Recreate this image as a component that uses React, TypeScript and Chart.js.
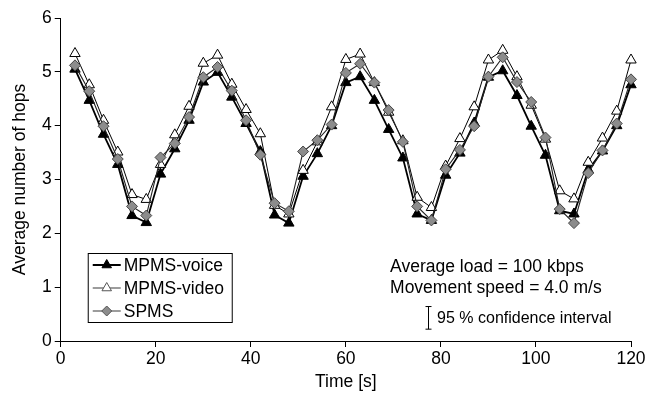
import React, { useEffect, useRef } from "react";
import { Chart, registerables } from "chart.js";

Chart.register(...registerables);

const times = [3, 6, 9, 12, 15, 18, 21, 24, 27, 30, 33, 36, 39, 42, 45, 48, 51, 54, 57, 60, 63, 66, 69, 72, 75, 78, 81, 84, 87, 90, 93, 96, 99, 102, 105, 108, 111, 114, 117, 120];

const mpmsVoice = [5.05, 4.47, 3.84, 3.28, 2.33, 2.2, 3.1, 3.57, 4.1, 4.81, 4.99, 4.53, 4.04, 3.52, 2.34, 2.19, 3.06, 3.48, 4.0, 4.8, 4.91, 4.47, 3.93, 3.4, 2.36, 2.24, 3.08, 3.49, 4.05, 4.9, 5.02, 4.56, 3.99, 3.45, 2.42, 2.36, 3.18, 3.53, 4.0, 4.76];

const mpmsVideo = [5.34, 4.76, 4.1, 3.51, 2.72, 2.63, 3.28, 3.83, 4.36, 5.16, 5.31, 4.77, 4.3, 3.85, 2.52, 2.36, 3.17, 3.7, 4.35, 5.23, 5.33, 4.8, 4.25, 3.72, 2.67, 2.48, 3.25, 3.76, 4.35, 5.22, 5.4, 4.91, 4.38, 3.75, 2.79, 2.64, 3.32, 3.77, 4.27, 5.22];

const spms = [5.12, 4.64, 3.99, 3.38, 2.5, 2.33, 3.41, 3.67, 4.16, 4.9, 5.09, 4.65, 4.1, 3.46, 2.56, 2.41, 3.52, 3.73, 4.02, 4.98, 5.15, 4.8, 4.29, 3.7, 2.5, 2.24, 3.19, 3.55, 3.99, 4.91, 5.27, 4.81, 4.44, 3.78, 2.45, 2.19, 3.12, 3.54, 4.04, 4.86];

const seriesLabels = ["MPMS-voice", "MPMS-video", "SPMS"];
const annotationLines = ["Average load = 100 kbps", "Movement speed = 4.0 m/s"];
const ciLabel = "95 % confidence interval";

const FONT = "'Liberation Sans', Arial, sans-serif";

const toPoints = (ys: number[]) => times.map((t, i) => ({ x: t, y: ys[i] }));

const overlayPlugin = {
  id: "overlay",
  afterDraw(chart: any) {
    const { ctx, chartArea, scales } = chart;
    const xs = scales.x;
    const ys = scales.y;
    ctx.save();

    // Legend box
    const bx = chartArea.left + 27;
    const by = chartArea.top + 235;
    const bw = 144;
    const bh = 69;
    ctx.fillStyle = "#fff";
    ctx.fillRect(bx, by, bw, bh);
    ctx.strokeStyle = "#000";
    ctx.lineWidth = 1;
    ctx.strokeRect(bx + 0.5, by + 0.5, bw, bh);
    chart.data.datasets.forEach((ds: any, i: number) => {
      const cy = by + 12 + i * 23;
      const lx1 = bx + 5;
      const lx2 = bx + 33;
      ctx.strokeStyle = i === 0 ? "#000" : "#666";
      ctx.lineWidth = i === 0 ? 2 : 1.3;
      ctx.beginPath();
      ctx.moveTo(lx1, cy);
      ctx.lineTo(lx2, cy);
      ctx.stroke();
      ctx.fillStyle = ds.pointBackgroundColor;
      ctx.strokeStyle = i === 0 ? "#000" : "#555";
      ctx.lineWidth = 1;
      ctx.beginPath();
      const r = ds.pointRadius - 0.5;
      const mx = (lx1 + lx2) / 2;
      if (ds.pointStyle === "triangle") {
        ctx.moveTo(mx, cy - r);
        ctx.lineTo(mx + r * 0.866, cy + r * 0.5);
        ctx.lineTo(mx - r * 0.866, cy + r * 0.5);
      } else {
        ctx.moveTo(mx, cy - r);
        ctx.lineTo(mx + r, cy);
        ctx.lineTo(mx, cy + r);
        ctx.lineTo(mx - r, cy);
      }
      ctx.closePath();
      ctx.fill();
      ctx.stroke();
      ctx.fillStyle = "#000";
      ctx.font = `17.5px ${FONT}`;
      ctx.textBaseline = "middle";
      ctx.textAlign = "left";
      ctx.fillText(ds.label, bx + 36, cy + 1);
    });

    // Annotation text
    ctx.fillStyle = "#000";
    ctx.font = `17.5px ${FONT}`;
    ctx.textBaseline = "middle";
    ctx.textAlign = "left";
    ctx.fillText(annotationLines[0], xs.getPixelForValue(69.3), ys.getPixelForValue(1.38));
    ctx.fillText(annotationLines[1], xs.getPixelForValue(69.3), ys.getPixelForValue(0.98));

    // Confidence interval symbol
    const ix = Math.round(xs.getPixelForValue(77.3)) + 0.5;
    const iy1 = ys.getPixelForValue(0.64);
    const iy2 = ys.getPixelForValue(0.22);
    ctx.strokeStyle = "#000";
    ctx.lineWidth = 1;
    ctx.beginPath();
    ctx.moveTo(ix, iy1);
    ctx.lineTo(ix, iy2);
    ctx.moveTo(ix - 3, iy1);
    ctx.lineTo(ix + 3, iy1);
    ctx.moveTo(ix - 3, iy2);
    ctx.lineTo(ix + 3, iy2);
    ctx.stroke();
    ctx.font = `16px ${FONT}`;
    ctx.fillText(ciLabel, xs.getPixelForValue(79.2), ys.getPixelForValue(0.41));

    ctx.restore();
  },
};

export default function App() {
  const ref = useRef<HTMLCanvasElement | null>(null);

  useEffect(() => {
    if (!ref.current) return;
    const chart = new Chart(ref.current, {
      type: "line",
      data: {
        datasets: [
          {
            label: seriesLabels[0],
            data: toPoints(mpmsVoice),
            borderColor: "#000",
            borderWidth: 1.8,
            pointStyle: "triangle",
            pointRadius: 6,
            pointBackgroundColor: "#000",
            pointBorderColor: "#000",
            pointBorderWidth: 1,
            clip: false,
            order: 2,
          },
          {
            label: seriesLabels[1],
            data: toPoints(mpmsVideo),
            borderColor: "#000",
            borderWidth: 1,
            pointStyle: "triangle",
            pointRadius: 6,
            pointBackgroundColor: "#fff",
            pointBorderColor: "#000",
            pointBorderWidth: 1,
            clip: false,
            order: 1,
          },
          {
            label: seriesLabels[2],
            data: toPoints(spms),
            borderColor: "#222",
            borderWidth: 1.1,
            pointStyle: "rectRot",
            pointRadius: 5.5,
            pointBackgroundColor: "#8c8c8c",
            pointBorderColor: "#444",
            pointBorderWidth: 1,
            clip: false,
            order: 0,
          },
        ],
      },
      options: {
        responsive: false,
        animation: false,
        devicePixelRatio: 1,
        layout: { padding: { top: 18, right: 32, left: 7, bottom: 7 } },
        plugins: {
          legend: { display: false },
          tooltip: { enabled: false },
        },
        scales: {
          x: {
            type: "linear",
            min: 0,
            max: 120,
            ticks: { stepSize: 20, color: "#000", font: { family: FONT, size: 17.5 }, padding: 2 },
            grid: { display: true, drawOnChartArea: false, drawTicks: true, tickLength: 6, color: "#000" },
            border: { display: true, color: "#000", width: 1 },
            title: { display: true, text: "Time [s]", color: "#000", font: { family: FONT, size: 17.5 }, padding: { top: 0, bottom: 0 } },
          },
          y: {
            min: 0,
            max: 6,
            ticks: { stepSize: 1, color: "#000", font: { family: FONT, size: 17.5 }, padding: 3 },
            grid: { display: true, drawOnChartArea: false, drawTicks: true, tickLength: 6, color: "#000" },
            border: { display: true, color: "#000", width: 1 },
            title: { display: true, text: "Average number of hops", color: "#000", font: { family: FONT, size: 17.5 }, padding: { top: 3, bottom: 8 } },
          },
        },
      },
      plugins: [overlayPlugin],
    });
    return () => chart.destroy();
  }, []);

  return (
    <div style={{ position: "absolute", left: 0, top: 0, width: 663, height: 400, background: "#fff" }}>
      <canvas ref={ref} width={663} height={400} style={{ display: "block" }} />
    </div>
  );
}
